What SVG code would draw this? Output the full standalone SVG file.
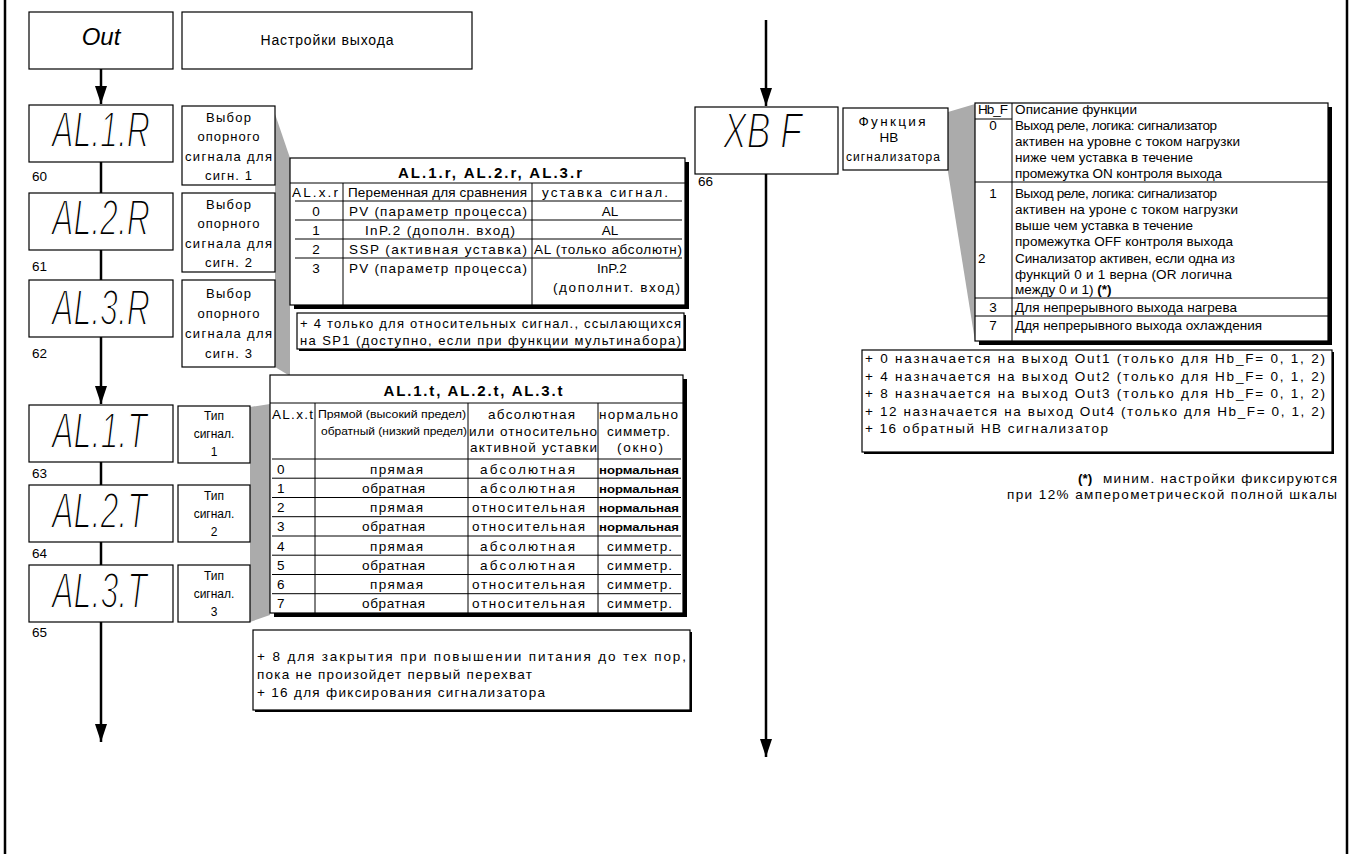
<svg xmlns="http://www.w3.org/2000/svg" width="1351" height="854" viewBox="0 0 1351 854">
<defs>
<style>
.t{font-family:"Liberation Sans",Arial,sans-serif;font-size:13.5px;fill:#000}
.d{font-size:13px}
.d2{font-size:12px}
.m{text-anchor:middle}
.e{text-anchor:end}
.b{font-weight:bold}
.sm{font-size:10.5px}
.nb{font-size:10.5px;font-weight:bold}
.ti{font-size:15px;font-weight:bold}
.seg{font-family:"Liberation Sans",Arial,sans-serif;font-style:italic;font-size:50px;fill:#000;stroke:#fff;stroke-width:1.8}
.box{fill:#fff;stroke:#000;stroke-width:1.2}
.sh{fill:#000}
.ln{stroke:#000;stroke-width:1;fill:none}
.wedge{fill:#ababab}
.conn{stroke:#000;stroke-width:2.5;fill:none}
.frame{stroke:#000;stroke-width:2.5}
</style>
<marker id="ah" markerUnits="userSpaceOnUse" markerWidth="18" markerHeight="12" viewBox="0 0 18 12" refX="18" refY="6" orient="auto">
<path d="M0,0 L18,6 L0,12 z" fill="#000"/>
</marker>
</defs>
<rect width="1351" height="854" fill="#fff"/>
<line class="frame" x1="5" y1="0" x2="5" y2="854"/>
<line class="frame" x1="1347" y1="0" x2="1347" y2="854"/>

<polygon class="wedge" points="275,114 290,158 290,376 275,367"/>
<polygon class="wedge" points="250,407 270,404 270,615 250,622"/>
<polygon class="wedge" points="948,112 975,104 975,341 948,172"/>

<g id="connectors">
<path class="conn" d="M101,69 L101,104" marker-end="url(#ah)"/>
<path class="conn" d="M101,162 L101,193"/>
<path class="conn" d="M101,250 L101,280"/>
<path class="conn" d="M101,337 L101,404" marker-end="url(#ah)"/>
<path class="conn" d="M101,462 L101,485"/>
<path class="conn" d="M101,542 L101,565"/>
<path class="conn" d="M101,622 L101,742" marker-end="url(#ah)"/>
<path class="conn" d="M766,20 L766,106" marker-end="url(#ah)"/>
<path class="conn" d="M766,174 L766,757" marker-end="url(#ah)"/>
</g>

<g id="node-out">
<rect class="box" x="29" y="12" width="144" height="57"/>
<text class="t m" x="101" y="45" style="font-size:24px;font-style:italic">Out</text>
</g>
<g id="node-out-desc">
<rect class="box" x="182" y="12" width="290" height="57"/>
<text class="t m" x="327" y="45" style="font-size:14px" textLength="133">Настройки выхода</text>
</g>

<g id="node-al1r">
<rect class="box" x="29" y="105" width="144" height="57"/>
<text class="seg" x="52" y="147" textLength="98" lengthAdjust="spacingAndGlyphs">AL.1.R</text>
<text class="t" x="32" y="181">60</text>
</g>
<g id="node-al1r-desc">
<rect class="box" x="182" y="106" width="93" height="79"/>
<text class="t d m" x="228.5" y="122" textLength="45">Выбор</text>
<text class="t d m" x="228.5" y="141" textLength="62">опорного</text>
<text class="t d m" x="228.5" y="161" textLength="87">сигнала для</text>
<text class="t d m" x="228.5" y="180" textLength="47">сигн. 1</text>
</g>
<g id="node-al2r">
<rect class="box" x="29" y="193" width="144" height="57"/>
<text class="seg" x="52" y="235" textLength="98" lengthAdjust="spacingAndGlyphs">AL.2.R</text>
<text class="t" x="32" y="271">61</text>
</g>
<g id="node-al2r-desc">
<rect class="box" x="182" y="193" width="93" height="79"/>
<text class="t d m" x="228.5" y="209" textLength="45">Выбор</text>
<text class="t d m" x="228.5" y="228" textLength="62">опорного</text>
<text class="t d m" x="228.5" y="248" textLength="87">сигнала для</text>
<text class="t d m" x="228.5" y="267" textLength="47">сигн. 2</text>
</g>
<g id="node-al3r">
<rect class="box" x="29" y="280" width="144" height="57"/>
<text class="seg" x="52" y="325" textLength="98" lengthAdjust="spacingAndGlyphs">AL.3.R</text>
<text class="t" x="32" y="358">62</text>
</g>
<g id="node-al3r-desc">
<rect class="box" x="182" y="280" width="93" height="87"/>
<text class="t d m" x="228.5" y="298" textLength="45">Выбор</text>
<text class="t d m" x="228.5" y="318" textLength="62">опорного</text>
<text class="t d m" x="228.5" y="338" textLength="87">сигнала для</text>
<text class="t d m" x="228.5" y="358" textLength="47">сигн. 3</text>
</g>

<g id="table-alr">
<rect class="sh" x="294" y="162" width="395" height="147"/>
<rect class="box" x="290" y="158" width="395" height="147"/>
<text class="t ti m" x="490" y="178" textLength="184">AL.1.r, AL.2.r, AL.3.r</text>
<line class="ln" x1="290" y1="183" x2="685" y2="183"/>
<line class="ln" x1="343" y1="183" x2="343" y2="305"/>
<line class="ln" x1="532" y1="183" x2="532" y2="305"/>
<text class="t" x="292" y="197" textLength="46">AL.x.r</text>
<text class="t" x="348" y="197" textLength="179">Переменная для сравнения</text>
<text class="t" x="542" y="197" textLength="126">уставка сигнал.</text>
<line class="ln" x1="295" y1="201" x2="682" y2="201"/>
<text class="t m" x="316" y="216">0</text>
<text class="t" x="349" y="216" textLength="178">PV (параметр процесса)</text>
<text class="t m" x="610" y="216">AL</text>
<line class="ln" x1="295" y1="220" x2="682" y2="220"/>
<text class="t m" x="316" y="235">1</text>
<text class="t" x="365" y="235" textLength="150">InP.2 (дополн. вход)</text>
<text class="t m" x="610" y="235">AL</text>
<line class="ln" x1="295" y1="239" x2="682" y2="239"/>
<text class="t m" x="316" y="254">2</text>
<text class="t" x="349" y="254" textLength="178">SSP (активная уставка)</text>
<text class="t" x="534" y="254" textLength="148">AL (только абсолютн)</text>
<line class="ln" x1="295" y1="258" x2="682" y2="258"/>
<text class="t m" x="316" y="273">3</text>
<text class="t" x="349" y="273" textLength="178">PV (параметр процесса)</text>
<text class="t m" x="612" y="273">InP.2</text>
<text class="t" x="553" y="292" textLength="127">(дополнит. вход)</text>
</g>

<g id="note-alr">
<rect class="sh" x="299" y="315" width="387" height="36"/>
<rect class="box" x="297" y="313" width="387" height="36"/>
<text class="t" x="300" y="328" style="font-size:13px" textLength="381">+ 4 только для относительных сигнал., ссылающихся</text>
<text class="t" x="300" y="345" style="font-size:13px" textLength="381">на SP1 (доступно, если при функции мультинабора)</text>
</g>

<g id="node-al1t">
<rect class="box" x="29" y="405" width="144" height="57"/>
<text class="seg" x="52" y="448" textLength="95" lengthAdjust="spacingAndGlyphs">AL.1.T</text>
<text class="t" x="32" y="478">63</text>
</g>
<g id="node-al1t-desc">
<rect class="box" x="178" y="406" width="72" height="57"/>
<text class="t d2 m" x="214" y="420">Тип</text>
<text class="t d2 m" x="214" y="438">сигнал.</text>
<text class="t d2 m" x="214" y="456">1</text>
</g>
<g id="node-al2t">
<rect class="box" x="29" y="485" width="144" height="57"/>
<text class="seg" x="52" y="528" textLength="95" lengthAdjust="spacingAndGlyphs">AL.2.T</text>
<text class="t" x="32" y="558">64</text>
</g>
<g id="node-al2t-desc">
<rect class="box" x="178" y="485" width="72" height="57"/>
<text class="t d2 m" x="214" y="500">Тип</text>
<text class="t d2 m" x="214" y="518">сигнал.</text>
<text class="t d2 m" x="214" y="536">2</text>
</g>
<g id="node-al3t">
<rect class="box" x="29" y="565" width="144" height="57"/>
<text class="seg" x="52" y="608" textLength="95" lengthAdjust="spacingAndGlyphs">AL.3.T</text>
<text class="t" x="32" y="637">65</text>
</g>
<g id="node-al3t-desc">
<rect class="box" x="178" y="565" width="72" height="57"/>
<text class="t d2 m" x="214" y="580">Тип</text>
<text class="t d2 m" x="214" y="598">сигнал.</text>
<text class="t d2 m" x="214" y="616">3</text>
</g>

<g id="table-alt">
<rect class="sh" x="274" y="379" width="413" height="238"/>
<rect class="box" x="270" y="375" width="413" height="238"/>
<text class="t ti m" x="473" y="396" textLength="179">AL.1.t, AL.2.t, AL.3.t</text>
<line class="ln" x1="270" y1="403" x2="683" y2="403"/>
<line class="ln" x1="315" y1="403" x2="315" y2="613"/>
<line class="ln" x1="468" y1="403" x2="468" y2="613"/>
<line class="ln" x1="598" y1="403" x2="598" y2="613"/>
<text class="t" x="272" y="419" textLength="41">AL.x.t</text>
<text class="t sm" x="318" y="418" textLength="148" lengthAdjust="spacingAndGlyphs">Прямой (высокий предел)</text>
<text class="t sm" x="321" y="435" textLength="146" lengthAdjust="spacingAndGlyphs">обратный (низкий предел)</text>
<text class="t" x="488" y="419" textLength="87">абсолютная</text>
<text class="t" x="469" y="436" textLength="128">или относительно</text>
<text class="t" x="470" y="452" textLength="127">активной уставки</text>
<text class="t" x="599" y="419" textLength="79">нормально</text>
<text class="t" x="607" y="436" textLength="63">симметр.</text>
<text class="t" x="617" y="452" textLength="46">(окно)</text>
<line class="ln" x1="272" y1="459" x2="681" y2="459"/>

<text class="t" x="277" y="473.5">0</text>
<text class="t" x="370" y="473.5" textLength="53">прямая</text>
<text class="t" x="480" y="473.5" textLength="95">абсолютная</text>
<text class="t nb" x="599" y="473.5" textLength="80" lengthAdjust="spacingAndGlyphs">нормальная</text>
<line class="ln" x1="272" y1="478.2" x2="681" y2="478.2"/>
<text class="t" x="277" y="492.7">1</text>
<text class="t" x="362" y="492.7" textLength="63">обратная</text>
<text class="t" x="480" y="492.7" textLength="95">абсолютная</text>
<text class="t nb" x="599" y="492.7" textLength="80" lengthAdjust="spacingAndGlyphs">нормальная</text>
<line class="ln" x1="272" y1="497.5" x2="681" y2="497.5"/>
<text class="t" x="277" y="512">2</text>
<text class="t" x="370" y="512" textLength="53">прямая</text>
<text class="t" x="472" y="512" textLength="113">относительная</text>
<text class="t nb" x="599" y="512" textLength="80" lengthAdjust="spacingAndGlyphs">нормальная</text>
<line class="ln" x1="272" y1="516.7" x2="681" y2="516.7"/>
<text class="t" x="277" y="531.2">3</text>
<text class="t" x="362" y="531.2" textLength="63">обратная</text>
<text class="t" x="472" y="531.2" textLength="113">относительная</text>
<text class="t nb" x="599" y="531.2" textLength="80" lengthAdjust="spacingAndGlyphs">нормальная</text>
<line class="ln" x1="272" y1="536" x2="681" y2="536"/>
<text class="t" x="277" y="550.5">4</text>
<text class="t" x="370" y="550.5" textLength="53">прямая</text>
<text class="t" x="480" y="550.5" textLength="95">абсолютная</text>
<text class="t" x="607" y="550.5" textLength="65">симметр.</text>
<line class="ln" x1="272" y1="555.2" x2="681" y2="555.2"/>
<text class="t" x="277" y="569.7">5</text>
<text class="t" x="362" y="569.7" textLength="63">обратная</text>
<text class="t" x="480" y="569.7" textLength="95">абсолютная</text>
<text class="t" x="607" y="569.7" textLength="65">симметр.</text>
<line class="ln" x1="272" y1="574.5" x2="681" y2="574.5"/>
<text class="t" x="277" y="589">6</text>
<text class="t" x="370" y="589" textLength="53">прямая</text>
<text class="t" x="472" y="589" textLength="113">относительная</text>
<text class="t" x="607" y="589" textLength="65">симметр.</text>
<line class="ln" x1="272" y1="593.7" x2="681" y2="593.7"/>
<text class="t" x="277" y="608.2">7</text>
<text class="t" x="362" y="608.2" textLength="63">обратная</text>
<text class="t" x="472" y="608.2" textLength="113">относительная</text>
<text class="t" x="607" y="608.2" textLength="65">симметр.</text>
</g>

<g id="note-alt">
<rect class="sh" x="255" y="632" width="437" height="80"/>
<rect class="box" x="253" y="630" width="437" height="80"/>
<text class="t" x="257" y="661" textLength="429">+ 8 для закрытия при повышении питания до тех пор,</text>
<text class="t" x="257" y="679" textLength="275">пока не произойдет первый перехват</text>
<text class="t" x="257" y="697" textLength="288">+ 16 для фиксирования сигнализатора</text>
</g>

<g id="node-hbf">
<rect class="box" x="695" y="107" width="143" height="67"/>
<text class="seg" x="723" y="148" textLength="79" lengthAdjust="spacingAndGlyphs">XB F</text>
<text class="t" x="698" y="186">66</text>
</g>
<g id="node-hbf-desc">
<rect class="box" x="843" y="108" width="105" height="62"/>
<text class="t m" x="892" y="126" textLength="67">Функция</text>
<text class="t m" x="889" y="142">НВ</text>
<text class="t m" x="893" y="161" style="font-size:12px" textLength="94">сигнализатора</text>
</g>

<g id="table-hbf">
<rect class="sh" x="979" y="107" width="353" height="238"/>
<rect class="box" x="975" y="103" width="353" height="238"/>
<line class="ln" x1="1012" y1="103" x2="1012" y2="341"/>
<text class="t" x="978" y="114" textLength="30">Hb_F</text>
<line class="ln" x1="975" y1="119" x2="1012" y2="119"/>
<text class="t" x="1015" y="114" textLength="122">Описание функции</text>
<text class="t m" x="993" y="130">0</text>
<text class="t" x="1015" y="130" textLength="202">Выход реле, логика: сигнализатор</text>
<text class="t" x="1015" y="146" textLength="225">активен на уровне с током нагрузки</text>
<text class="t" x="1015" y="162" textLength="178">ниже чем уставка в течение</text>
<text class="t" x="1015" y="178" textLength="207">промежутка ON контроля выхода</text>
<line class="ln" x1="975" y1="182" x2="1328" y2="182"/>
<text class="t m" x="993" y="198">1</text>
<text class="t" x="1015" y="198" textLength="202">Выход реле, логика: сигнализатор</text>
<text class="t" x="1015" y="214" textLength="223">активен на уроне с током нагрузки</text>
<text class="t" x="1015" y="230" textLength="178">выше чем уставка в течение</text>
<text class="t" x="1015" y="246" textLength="218">промежутка OFF контроля выхода</text>
<text class="t" x="978" y="263">2</text>
<text class="t" x="1015" y="263" textLength="220">Синализатор активен, если одна из</text>
<text class="t" x="1015" y="279" textLength="217">функций 0 и 1 верна (OR логична</text>
<text class="t" x="1015" y="294">между 0 и 1) <tspan class="b">(*)</tspan></text>
<line class="ln" x1="975" y1="298" x2="1328" y2="298"/>
<text class="t m" x="993" y="312">3</text>
<text class="t" x="1015" y="312" textLength="222">Для непрерывного выхода нагрева</text>
<line class="ln" x1="975" y1="316" x2="1328" y2="316"/>
<text class="t m" x="993" y="330">7</text>
<text class="t" x="1015" y="330" textLength="247">Ддя непрерывного выхода охлаждения</text>
</g>

<g id="note-hbf">
<rect class="sh" x="864" y="352" width="470" height="102"/>
<rect class="box" x="862" y="350" width="470" height="102"/>
<text class="t" x="865" y="363" textLength="460">+ 0 назначается на выход Out1 (только для Hb_F= 0, 1, 2)</text>
<text class="t" x="865" y="381" textLength="460">+ 4 назначается на выход Out2 (только для Hb_F= 0, 1, 2)</text>
<text class="t" x="865" y="398" textLength="460">+ 8 назначается на выход Out3 (только для Hb_F= 0, 1, 2)</text>
<text class="t" x="865" y="416" textLength="460">+ 12 назначается на выход Out4 (только для Hb_F= 0, 1, 2)</text>
<text class="t" x="865" y="433" textLength="243">+ 16 обратный НВ сигнализатор</text>
</g>

<g id="note-star">
<text class="t b" x="1078" y="483">(*)</text>
<text class="t" x="1103" y="483" textLength="234">миним. настройки фиксируются</text>
<text class="t" x="1007" y="499" textLength="330">при 12% амперометрической полной шкалы</text>
</g>
</svg>
